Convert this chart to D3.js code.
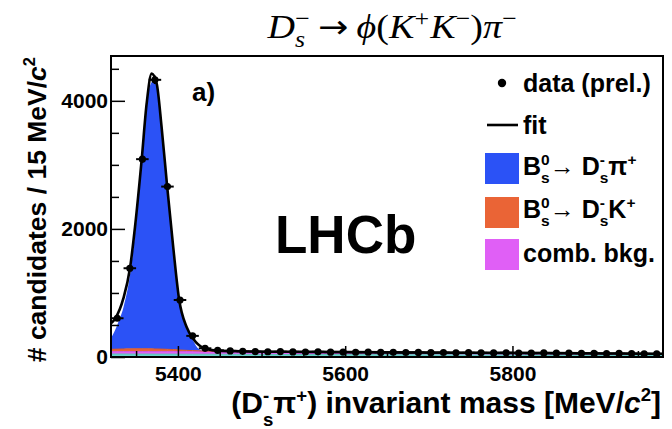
<!DOCTYPE html>
<html><head><meta charset="utf-8">
<script src="https://cdn.jsdelivr.net/npm/d3@7"></script>
<style>html,body{margin:0;padding:0;background:#fff;} svg{display:block;}</style>
</head><body>
<svg id="c" width="672" height="429"></svg>
<script>
// ---------------- data ----------------
const binCenters = [5327.5,5342.5,5357.5,5372.5,5387.5,5402.5,5417.5,5432.5,5447.5,5462.5,
  5477.5,5492.5,5507.5,5522.5,5537.5,5552.5,5567.5,5582.5,5597.5,5612.5,
  5627.5,5642.5,5657.5,5672.5,5687.5,5702.5,5717.5,5732.5,5747.5,5762.5,
  5777.5,5792.5,5807.5,5822.5,5837.5,5852.5,5867.5,5882.5,5897.5,5912.5,
  5927.5,5942.5,5957.5,5972.5];
const dataCounts = [605,1386,3089,4328,2661,890,330,136,105,95,
  88,85,82,84,80,78,81,76,77,74,
  76,72,73,70,72,68,70,66,68,65,
  63,66,62,60,63,59,60,57,58,55,
  56,53,50,48];
const binHalfWidth = 7.5;

const fitMass = [5320,5325,5334.7,5342.7,5348.7,5356.7,5362.6,5368.6,5374.6,5380.5,5387.2,5394.4,5401.6,5410.4,5418.3,5430.2,5446.2,5474,5550,5650,5750,5850,5980];
const fitVals = [525,600,910,1385,2030,3085,3955,4425,4270,3590,2655,1715,885,468,285,145,100,90,80,73,67,60,50];

const compMass = [5320,5327.5,5335,5342.5,5350,5357.5,5365,5372.5,5380,5387.5,5395,5402.5,5410,5417.5,5425,5432.5,5440,5447.5,5455,5470,5500,5550,5650,5750,5850,5980];
const otherBkg = [47,47,47,46,46,46,46,45,45,45,45,44,44,44,44,43,43,43,43,42,41,39,36,33,30,26];
const combBkg  = [36,37,38,39,40,40,41,41,42,42,43,43,43,44,44,44,45,45,45,46,45,42,38,34,30,24];
const dsKVals  = [37,39,41,42,43,43,42,40,37,33,28,22,17,12,8,5,3,1,0,0,0,0,0,0,0,0];
const dsPiVals = [170,377,654,1133,1961,3011,4031,4214,3496,2480,1514,711,361,175,29,0,0,0,0,0,0,0,0,0,0,0];

const xTicksMajor = [5400,5600,5800];
const xTicksMinor = [5350,5450,5500,5550,5650,5700,5750,5850,5900,5950];
const yTicksMajor = [0,2000,4000];
const yTicksMinor = [500,1000,1500,2500,3000,3500,4500];

const legendLabels = ["data (prel.)","fit","B_s^0→ D_s^-π^+","B_s^0→ D_s^-K^+","comb. bkg."];

// ---------------- drawing ----------------
const SANS = "'Liberation Sans', Arial, Helvetica, sans-serif";
const SERIF = "'Liberation Serif', 'DejaVu Serif', serif";
const svg = d3.select("#c");
const X0 = 111, X1 = 663, Y0 = 357, Y1 = 56;
const x = d3.scaleLinear().domain([5320, 5980]).range([X0, X1]);
const y = d3.scaleLinear().domain([0, 4700]).range([Y0, Y1]);

const colors = {other:"#6ad3cc", comb:"#e05ff6", dsk:"#ea6436", dspi:"#2b52f6"};

// stacked components
const rows = compMass.map((m,i)=>({m, other:otherBkg[i], comb:combBkg[i], dsk:dsKVals[i], dspi:dsPiVals[i]}));
const keys = ["other","comb","dsk","dspi"];
const stacked = d3.stack().keys(keys)(rows);
svg.append("clipPath").attr("id","pc").append("rect")
  .attr("x",X0).attr("y",Y1).attr("width",X1-X0).attr("height",Y0-Y1);
const plot = svg.append("g").attr("clip-path","url(#pc)");
const area = d3.area().x(d=>x(d.data.m)).y0(d=>y(d[0])).y1(d=>y(d[1])).curve(d3.curveMonotoneX);
["dspi","dsk","comb","other"].forEach(k=>{
  const s = stacked.find(s=>s.key===k);
  plot.append("path").attr("d", area(s)).attr("fill", colors[k]);
});
["other","comb","dsk"].forEach(k=>{
  const s = stacked.find(s=>s.key===k);
  plot.append("path").attr("d", d3.line().x(d=>x(d.data.m)).y(d=>y(d[1])).curve(d3.curveMonotoneX)(s))
    .attr("fill","none").attr("stroke", d3.color(colors[k]).darker(0.3)).attr("stroke-width",1);
});

// fit line
const fitPts = fitMass.map((m,i)=>[m, fitVals[i]]);
plot.append("path")
  .attr("d", d3.line().x(d=>x(d[0])).y(d=>y(d[1])).curve(d3.curveMonotoneX)(fitPts))
  .attr("fill","none").attr("stroke","#000").attr("stroke-width",2.6);

// data points
const pts = svg.append("g");
binCenters.forEach((m,i)=>{
  const v = dataCounts[i], e = Math.sqrt(v);
  pts.append("line").attr("x1",x(m-binHalfWidth)).attr("x2",x(m+binHalfWidth)).attr("y1",y(v)).attr("y2",y(v))
    .attr("stroke","#000").attr("stroke-width",2);
  pts.append("line").attr("x1",x(m)).attr("x2",x(m)).attr("y1",y(v-e)).attr("y2",y(v+e))
    .attr("stroke","#000").attr("stroke-width",2);
  pts.append("circle").attr("cx",x(m)).attr("cy",y(v)).attr("r",3.6).attr("fill","#000");
});

// axes
const axFont = g=>g.selectAll("text").style("font-family",SANS).style("font-weight","bold").style("font-size","21px").attr("fill","#000");
svg.append("g").attr("transform",`translate(0,${Y0})`)
  .call(d3.axisBottom(x).tickValues(xTicksMajor).tickSize(-11).tickPadding(9).tickFormat(d3.format("d")))
  .call(g=>g.select(".domain").remove()).call(axFont)
  .call(g=>g.selectAll("line").attr("stroke-width",1.5));
svg.append("g").attr("transform",`translate(0,${Y0})`)
  .call(d3.axisBottom(x).tickValues(xTicksMinor).tickSize(-6).tickFormat(""))
  .call(g=>g.select(".domain").remove()).call(g=>g.selectAll("line").attr("stroke-width",1.5));
svg.append("g").attr("transform",`translate(${X0},0)`)
  .call(d3.axisLeft(y).tickValues(yTicksMajor).tickSize(-14).tickPadding(3).tickFormat(d3.format("d")))
  .call(g=>g.select(".domain").remove()).call(axFont)
  .call(g=>g.selectAll("line").attr("stroke-width",1.5));
svg.append("g").attr("transform",`translate(${X0},0)`)
  .call(d3.axisLeft(y).tickValues(yTicksMinor).tickSize(-8).tickFormat(""))
  .call(g=>g.select(".domain").remove()).call(g=>g.selectAll("line").attr("stroke-width",1.5));

// frame
svg.append("rect").attr("x",X0).attr("y",Y1).attr("width",X1-X0).attr("height",Y0-Y1)
  .attr("fill","none").attr("stroke","#000").attr("stroke-width",2);

// rich text helper
function rich(parent, pieces, size, family, weight){
  const g = parent.append("g");
  let cx = 0, lastX = 0, lastW = 0;
  pieces.forEach(p=>{
    if(p.gap!==undefined && p.t===undefined){ cx += p.gap*size; return; }
    const s = size*(p.s||1);
    const t = g.append("text").attr("y",(p.dy||0)*size)
      .style("font-size",s+"px").style("font-style",p.it?"italic":"normal")
      .style("font-family",p.f||family).style("font-weight",p.w||weight).attr("fill","#000").text(p.t);
    const w = t.node().getComputedTextLength();
    if(p.stack){ t.attr("x",lastX); const mw=Math.max(lastW,w); cx = lastX+mw; lastW=mw; }
    else { t.attr("x",cx); lastX=cx; lastW=w; cx+=w; }
  });
  return {g, width:cx};
}
function place(r, xx, yy, anchor, rot, sx){
  const k = sx||1;
  const off = anchor==="end"? -r.width*k : anchor==="middle"? -r.width*k/2 : 0;
  r.g.attr("transform", `translate(${xx},${yy})${rot?` rotate(${rot})`:""} translate(${off},0) scale(${k},1)`);
}

// title
const sup=-0.36, sub=0.26;
place(rich(svg,[
  {t:"D",it:1},{t:"s",it:1,s:.68,dy:sub},{t:"−",s:.68,dy:sup,stack:1},
  {gap:.22},{t:"→",f:"'DejaVu Sans', sans-serif",s:.95},{gap:.22},{t:"ϕ",it:1},{t:"("},{t:"K",it:1},{t:"+",s:.68,dy:sup},{gap:.03},{t:"K",it:1},{t:"−",s:.68,dy:sup},
  {t:")"},{t:"π",it:1},{t:"−",s:.68,dy:sup}
],34,SERIF,"normal"), 392, 38, "middle", 0, 1.12);

// axis titles
place(rich(svg,[
  {t:"(D"},{t:"-",s:.62,dy:-.38},{t:"s",s:.62,dy:.42,stack:1},{t:" π"},{t:"+",s:.62,dy:-.38},
  {t:") invariant mass [MeV/"},{t:"c",it:1},{t:"2",s:.62,dy:-.4},{t:"]"}
],30,SANS,"bold"), 661, 413, "end");
place(rich(svg,[
  {t:"# candidates / 15 MeV/"},{t:"c",it:1},{t:"2",s:.62,dy:-.4}
],26.5,SANS,"bold"), 46, 57, "end", -90);

// labels
svg.append("text").attr("x",192).attr("y",101).text("a)")
  .style("font-family",SANS).style("font-weight","bold").style("font-size","26px");
svg.append("text").attr("x",275).attr("y",253).text("LHCb")
  .style("font-family",SANS).style("font-weight","bold").style("font-size","53px");

// legend
const LX = 523, LS = 25;
svg.append("circle").attr("cx",502).attr("cy",83).attr("r",4.2).attr("fill","#000");
place(rich(svg,[{t:legendLabels[0]}],LS,SANS,"bold"), LX, 92, "start");
svg.append("line").attr("x1",487).attr("x2",518).attr("y1",125).attr("y2",125).attr("stroke","#000").attr("stroke-width",2.6);
place(rich(svg,[{t:legendLabels[1]}],LS,SANS,"bold"), LX, 134, "start");
const boxes = [[153,colors.dspi],[197,colors.dsk],[239,colors.comb]];
boxes.forEach(([yy,c])=>svg.append("rect").attr("x",485).attr("y",yy).attr("width",34).attr("height",31).attr("fill",c));
place(rich(svg,[{t:"B"},{t:"0",s:.62,dy:-.4},{t:"s",s:.62,dy:.3,stack:1},{t:"→ D"},{t:"-",s:.62,dy:-.4},{t:"s",s:.62,dy:.3,stack:1},{t:"π"},{t:"+",s:.62,dy:-.4}],LS,SANS,"bold"), LX, 175, "start");
place(rich(svg,[{t:"B"},{t:"0",s:.62,dy:-.4},{t:"s",s:.62,dy:.3,stack:1},{t:"→ D"},{t:"-",s:.62,dy:-.4},{t:"s",s:.62,dy:.3,stack:1},{t:"K"},{t:"+",s:.62,dy:-.4}],LS,SANS,"bold"), LX, 218, "start");
place(rich(svg,[{t:legendLabels[4]}],LS,SANS,"bold"), LX, 262, "start");
</script>
</body></html>
